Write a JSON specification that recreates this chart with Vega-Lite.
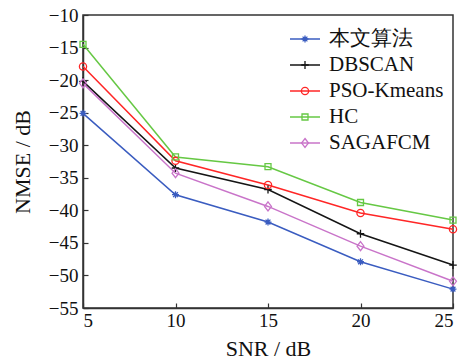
{
  "$schema": "https://vega.github.io/schema/vega-lite/v6.json",
  "width": 370,
  "height": 293,
  "autosize": {"type": "none"},
  "padding": {"left": 83, "top": 15, "right": 17, "bottom": 51},
  "config": {
    "font": "Liberation Serif",
    "view": {"stroke": "#333333", "strokeWidth": 1.5},
    "axis": {
      "grid": false,
      "domainColor": "#333333",
      "domainWidth": 1.5,
      "tickColor": "#333333",
      "tickSize": -5,
      "tickWidth": 1.2,
      "labelFont": "Liberation Serif",
      "labelFontSize": 19,
      "labelColor": "#111111",
      "titleFont": "Liberation Serif",
      "titleFontSize": 22,
      "titleFontWeight": "normal",
      "titleColor": "#111111"
    },
    "legend": {
      "labelFont": "Liberation Serif",
      "labelFontSize": 21,
      "labelColor": "#111111"
    }
  },
  "data": {
    "values": [
      {"snr": 5, "nmse": -25.1, "series": "本文算法"},
      {"snr": 10, "nmse": -37.6, "series": "本文算法"},
      {"snr": 15, "nmse": -41.8, "series": "本文算法"},
      {"snr": 20, "nmse": -47.9, "series": "本文算法"},
      {"snr": 25, "nmse": -52.1, "series": "本文算法"},
      {"snr": 5, "nmse": -20.2, "series": "DBSCAN"},
      {"snr": 10, "nmse": -33.5, "series": "DBSCAN"},
      {"snr": 15, "nmse": -36.8, "series": "DBSCAN"},
      {"snr": 20, "nmse": -43.6, "series": "DBSCAN"},
      {"snr": 25, "nmse": -48.4, "series": "DBSCAN"},
      {"snr": 5, "nmse": -17.9, "series": "PSO-Kmeans"},
      {"snr": 10, "nmse": -32.4, "series": "PSO-Kmeans"},
      {"snr": 15, "nmse": -36.1, "series": "PSO-Kmeans"},
      {"snr": 20, "nmse": -40.4, "series": "PSO-Kmeans"},
      {"snr": 25, "nmse": -42.9, "series": "PSO-Kmeans"},
      {"snr": 5, "nmse": -14.5, "series": "HC"},
      {"snr": 10, "nmse": -31.8, "series": "HC"},
      {"snr": 15, "nmse": -33.3, "series": "HC"},
      {"snr": 20, "nmse": -38.8, "series": "HC"},
      {"snr": 25, "nmse": -41.5, "series": "HC"},
      {"snr": 5, "nmse": -20.5, "series": "SAGAFCM"},
      {"snr": 10, "nmse": -34.3, "series": "SAGAFCM"},
      {"snr": 15, "nmse": -39.4, "series": "SAGAFCM"},
      {"snr": 20, "nmse": -45.5, "series": "SAGAFCM"},
      {"snr": 25, "nmse": -50.9, "series": "SAGAFCM"}
    ]
  },
  "encoding": {
    "x": {
      "field": "snr", "type": "quantitative", "title": "SNR / dB",
      "scale": {"domain": [5, 25], "nice": false, "zero": false},
      "axis": {"values": [5, 10, 15, 20, 25], "labelPadding": 8, "titlePadding": 8}
    },
    "y": {
      "field": "nmse", "type": "quantitative", "title": "NMSE / dB",
      "scale": {"domain": [-55, -10], "nice": false, "zero": false},
      "axis": {"values": [-55, -50, -45, -40, -35, -30, -25, -20, -15, -10], "labelPadding": 10, "titlePadding": 14}
    }
  },
  "layer": [
    {
      "mark": {"type": "line", "strokeWidth": 1.5},
      "encoding": {
        "stroke": {
          "field": "series", "type": "nominal",
          "sort": ["本文算法", "DBSCAN", "PSO-Kmeans", "HC", "SAGAFCM"],
          "scale": {
            "range": ["#3a5cc0", "#151515", "#ff2626", "#66c844", "#c974c9"]
          },
          "legend": {
            "title": null,
            "orient": "none",
            "legendX": 206,
            "legendY": 8,
            "padding": 0,
            "symbolType": "stroke",
            "symbolSize": 900,
            "symbolStrokeWidth": 1.5,
            "labelOffset": 8,
            "rowPadding": -7.5
          }
        }
      }
    },
    {
      "mark": {"type": "point", "filled": false, "size": 900, "strokeWidth": 1.3, "opacity": 1},
      "encoding": {
        "color": {
          "field": "series", "type": "nominal",
          "scale": {
            "domain": ["本文算法", "DBSCAN", "PSO-Kmeans", "HC", "SAGAFCM"],
            "range": ["#3a5cc0", "#151515", "#ff2626", "#66c844", "#c974c9"]
          },
          "legend": {
            "title": null,
            "orient": "none",
            "legendX": 206,
            "legendY": 8,
            "padding": 0,
            "symbolSize": 900,
            "symbolStrokeWidth": 1.3,
            "labelOffset": 8,
            "labelColor": "transparent",
            "rowPadding": -7.5
          }
        },
        "shape": {
          "field": "series", "type": "nominal",
          "scale": {
            "domain": ["本文算法", "DBSCAN", "PSO-Kmeans", "HC", "SAGAFCM"],
            "range": [
              "M-0.23,0L0.23,0M0,-0.23L0,0.23M-0.16,-0.16L0.16,0.16M-0.16,0.16L0.16,-0.16",
              "M-0.25,0L0.25,0M0,-0.27L0,0.27",
              "M-0.24,0A0.24,0.24 0 1,1 0.24,0A0.24,0.24 0 1,1 -0.24,0Z",
              "M-0.2,-0.2L0.2,-0.2L0.2,0.2L-0.2,0.2Z",
              "M0,-0.3L0.23,0L0,0.3L-0.23,0Z"
            ]
          },
          "legend": {
            "title": null,
            "orient": "none",
            "legendX": 206,
            "legendY": 8,
            "padding": 0,
            "symbolSize": 900,
            "symbolStrokeWidth": 1.3,
            "labelOffset": 8,
            "labelColor": "transparent",
            "rowPadding": -7.5
          }
        }
      }
    }
  ]
}
